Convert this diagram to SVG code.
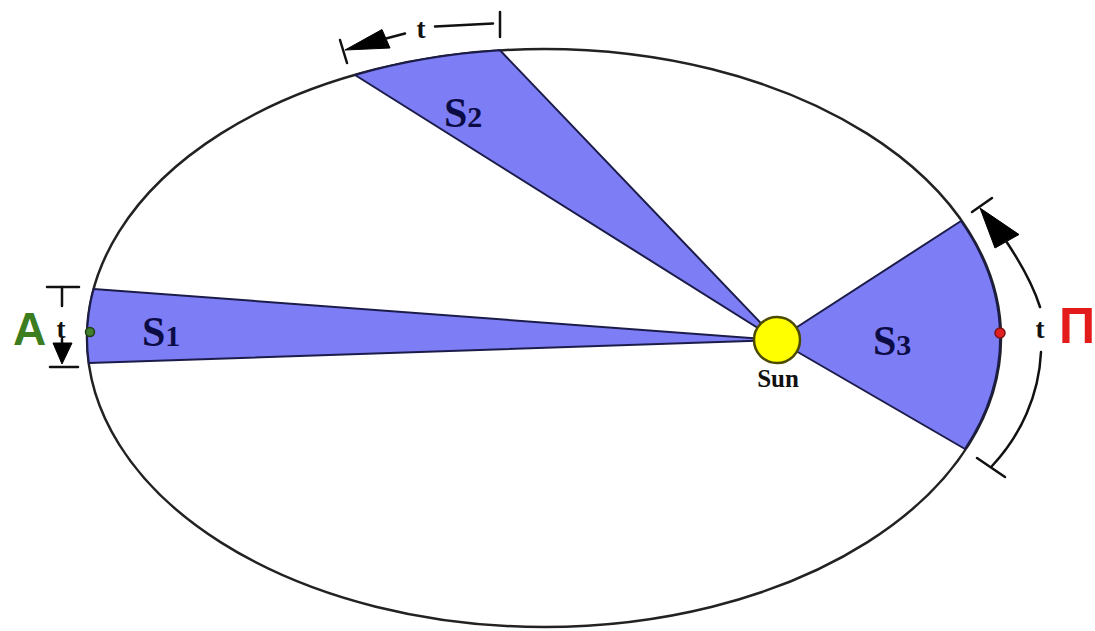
<svg xmlns="http://www.w3.org/2000/svg" width="1095" height="631" viewBox="0 0 1095 631">
<style>
.orbit{fill:none;stroke:#222;stroke-width:2.5}
.sector{fill:#7d7df6;stroke:#1c1c4a;stroke-width:2;stroke-linejoin:round}
.lbl{font-family:"Liberation Serif",serif;font-weight:bold;fill:#0b0b45;font-size:42px}
.sub{font-size:30px}
.t{font-family:"Liberation Serif",serif;font-weight:bold;fill:#111;font-size:27px;text-anchor:middle}
.dim{fill:none;stroke:#111;stroke-width:2.5;stroke-linecap:round}
.head{fill:#000;stroke:#000;stroke-width:1}
</style>
<rect width="1095" height="631" fill="#fff"/>
<g id="orbit">
<ellipse class="orbit" cx="544" cy="338" rx="457" ry="289"/>
</g>
<g id="sector-s1">
<path class="sector" d="M777,340 L93.6,289 A457,289 0 0 0 88.8,363 Z"/>
<text class="lbl" x="142" y="346">S<tspan class="sub">1</tspan></text>
</g>
<g id="sector-s2">
<path class="sector" d="M777,340 L355,75 A457,289 0 0 1 500,50.3 Z"/>
<text class="lbl" x="444" y="127">S<tspan class="sub">2</tspan></text>
</g>
<g id="sector-s3">
<path class="sector" d="M777,340 L961,221 A457,289 0 0 1 965,449 Z"/>
<text class="lbl" x="873" y="355">S<tspan class="sub">3</tspan></text>
</g>
<g id="sun">
<circle cx="777" cy="340" r="23" fill="#ffff00" stroke="#4a4a00" stroke-width="2.5"/>
<text x="778" y="387" font-family="Liberation Serif, serif" font-weight="bold" font-size="25" fill="#111" text-anchor="middle">Sun</text>
</g>
<g id="aphelion">
<circle cx="90" cy="332" r="4.5" fill="#3f7f2f" stroke="#1f3f10" stroke-width="1.5"/>
<text x="13" y="345" font-family="Liberation Sans, sans-serif" font-weight="bold" font-size="46" fill="#3b7d1f">A</text>
</g>
<g id="perihelion">
<circle cx="1000" cy="333" r="5" fill="#e02020" stroke="#801010" stroke-width="1.5"/>
<text x="1059" y="343" font-family="Liberation Sans, sans-serif" font-weight="bold" font-size="50" fill="#e31b1b">Π</text>
</g>
<g id="connectors">
<line class="dim" x1="47" y1="287" x2="79" y2="287"/>
<line class="dim" x1="62" y1="287" x2="62" y2="306"/>
<text class="t" x="61" y="338">t</text>
<line class="dim" x1="62" y1="339" x2="62" y2="345"/>
<polygon class="head" points="53,343 72,343 62,364"/>
<line class="dim" x1="50" y1="367" x2="78" y2="367"/>
<line class="dim" x1="340" y1="40" x2="347" y2="63"/>
<polygon class="head" points="345,50 382,29.5 390,48"/>
<line class="dim" x1="386" y1="38.5" x2="405" y2="33.5"/>
<text class="t" x="421" y="38">t</text>
<line class="dim" x1="435" y1="26.5" x2="493" y2="23.5"/>
<line class="dim" x1="500" y1="12" x2="500" y2="37"/>
<line class="dim" x1="972" y1="212" x2="992" y2="198"/>
<polygon class="head" points="980,208 1019,234.5 995,248"/>
<path class="dim" d="M1006,241 C1020,262 1033,285 1040,307"/>
<text class="t" x="1040" y="338">t</text>
<path class="dim" d="M1041,352 C1039,395 1021,435 992,466"/>
<line class="dim" x1="977" y1="458" x2="1005" y2="477"/>
</g>
</svg>
